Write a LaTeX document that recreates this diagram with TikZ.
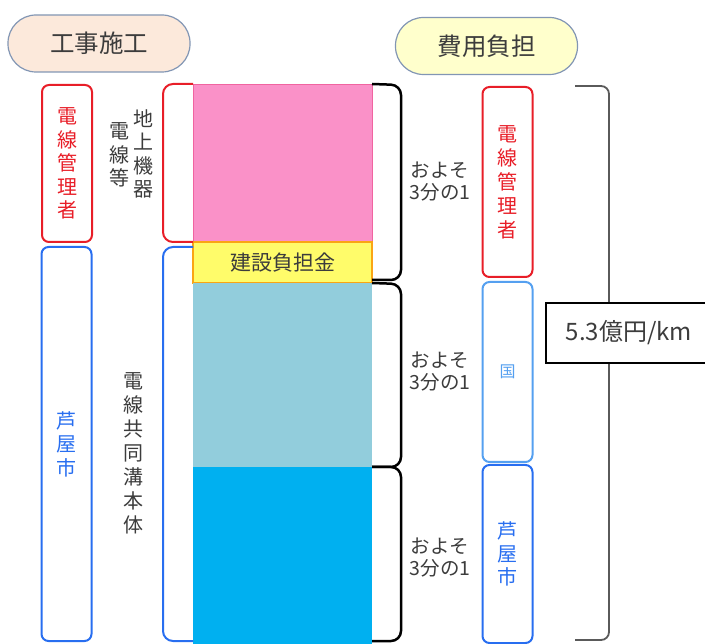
\documentclass[tikz,border=0pt]{standalone}
\usepackage{fontspec}
\setmainfont{Noto Sans CJK JP}
\definecolor{txt}{RGB}{60,60,60}
\definecolor{peach}{RGB}{252,233,219}
\definecolor{cream}{RGB}{255,255,204}
\definecolor{pillborder}{RGB}{130,150,180}
\definecolor{mred}{RGB}{232,30,40}
\definecolor{mblue}{RGB}{40,110,240}
\definecolor{lblue}{RGB}{85,160,240}
\definecolor{pinkfill}{RGB}{250,145,200}
\definecolor{pinkline}{RGB}{240,100,160}
\definecolor{yel}{RGB}{255,252,106}
\definecolor{orng}{RGB}{250,165,20}
\definecolor{paleblue}{RGB}{146,205,220}
\definecolor{brightblue}{RGB}{0,176,240}
\definecolor{grayline}{RGB}{90,90,90}
\begin{document}
\begin{tikzpicture}[x=1pt,y=-1pt,
  pill/.style={draw=pillborder,line width=1.2pt,rounded corners=28pt,minimum width=182pt,minimum height=57pt,text=txt,font=\fontsize{24.5}{28}\selectfont},
  vbox/.style={draw,line width=2pt,rounded corners=7pt,minimum width=50pt,inner sep=0pt,align=center,font=\fontsize{20}{23.5}\selectfont},
  vtext/.style={align=center,inner sep=0pt,text=txt,font=\fontsize{20}{23.5}\selectfont},
  bar/.style={minimum width=179pt,inner sep=0pt,outer sep=0pt},
  brace/.style={line width=2.5pt,rounded corners=10pt},
  share/.style={align=center,text=txt,inner sep=0pt,font=\fontsize{19.5}{22}\selectfont}]
\useasboundingbox (0,0) rectangle (705,644);
\clip (0,0) rectangle (705,644);
% header pills
\node[pill,fill=peach] (koji) at (99,43.5) {工事施工};
\node[pill,fill=cream] (hiyo) at (486.5,46) {費用負担};
% left boxes
\node[vbox,draw=mred,text=mred,minimum height=157pt] (lmgr) at (67,163.5) {電\\線\\管\\理\\者};
\node[vbox,draw=mblue,text=mblue,minimum height=394pt] (lcity) at (66.5,444) {芦\\屋\\市};
% vertical labels
\node[vtext] (chijo) at (143,154) {地\\上\\機\\器};
\node[vtext] (densen) at (119,155) {電\\線\\等};
\node[vtext,font=\fontsize{20}{24}\selectfont] (kyodo) at (133,453) {電\\線\\共\\同\\溝\\本\\体};
% stacked bars
\node[bar,fill=pinkfill,draw=pinkline,line width=0.8pt,minimum height=158pt] (pink) at (282.5,163) {};
\node[bar,fill=yel,draw=orng,line width=1.5pt,minimum height=41pt,text=txt,font=\fontsize{21}{24}\selectfont] (kensetsu) at (282.5,262.5) {建設負担金};
\node[bar,fill=paleblue,minimum height=184pt] (pale) at (282.5,375) {};
\node[bar,fill=brightblue,minimum height=183pt] (bright) at (282.5,558.5) {};
% left brackets
\draw[mred,line width=2pt,rounded corners=10pt] (pink.north west) -- (163,84) -- (163,242) -- (pink.south west);
\draw[mblue,line width=2pt,rounded corners=10pt] (193,247) -- (163,247) -- (163,641) -- (193,641);
% right braces
\draw[brace] (pink.north east) -- (401,85) -- (401,280) -- (372,280);
\draw[brace] (pale.north east) -- (401,284) -- (401,467) -- (pale.south east);
\draw[brace] (bright.north east) -- (401,467) -- (401,641) -- (372,641);
% share labels
\node[share] (s1) at (440,182) {およそ\\3分の1};
\node[share] (s2) at (440,372) {およそ\\3分の1};
\node[share] (s3) at (440,558) {およそ\\3分の1};
% right boxes
\node[vbox,draw=mred,text=mred,minimum height=190pt,font=\fontsize{20}{24}\selectfont] (rmgr) at (507.5,182) {電\\線\\管\\理\\者};
\node[vbox,draw=lblue,text=lblue,minimum height=180pt,font=\fontsize{16}{20}\selectfont] (rkuni) at (507.5,372) {国};
\node[vbox,draw=mblue,text=mblue,minimum height=178pt,font=\fontsize{20}{23}\selectfont] (rcity) at (507.5,554) {芦\\屋\\市};
% total bracket
\draw[grayline,line width=1.8pt,rounded corners=8pt] (575,86) -- (609,86) -- (609,640) -- (575,640);
\node[draw=black,fill=white,line width=1.5pt,minimum width=169pt,minimum height=60pt] (total) at (630.5,333) {};
\node[text=txt,font=\fontsize{24}{28}\selectfont,inner sep=0pt] (totaltext) at (629,333) {5.3億円/km};
\end{tikzpicture}
\end{document}
